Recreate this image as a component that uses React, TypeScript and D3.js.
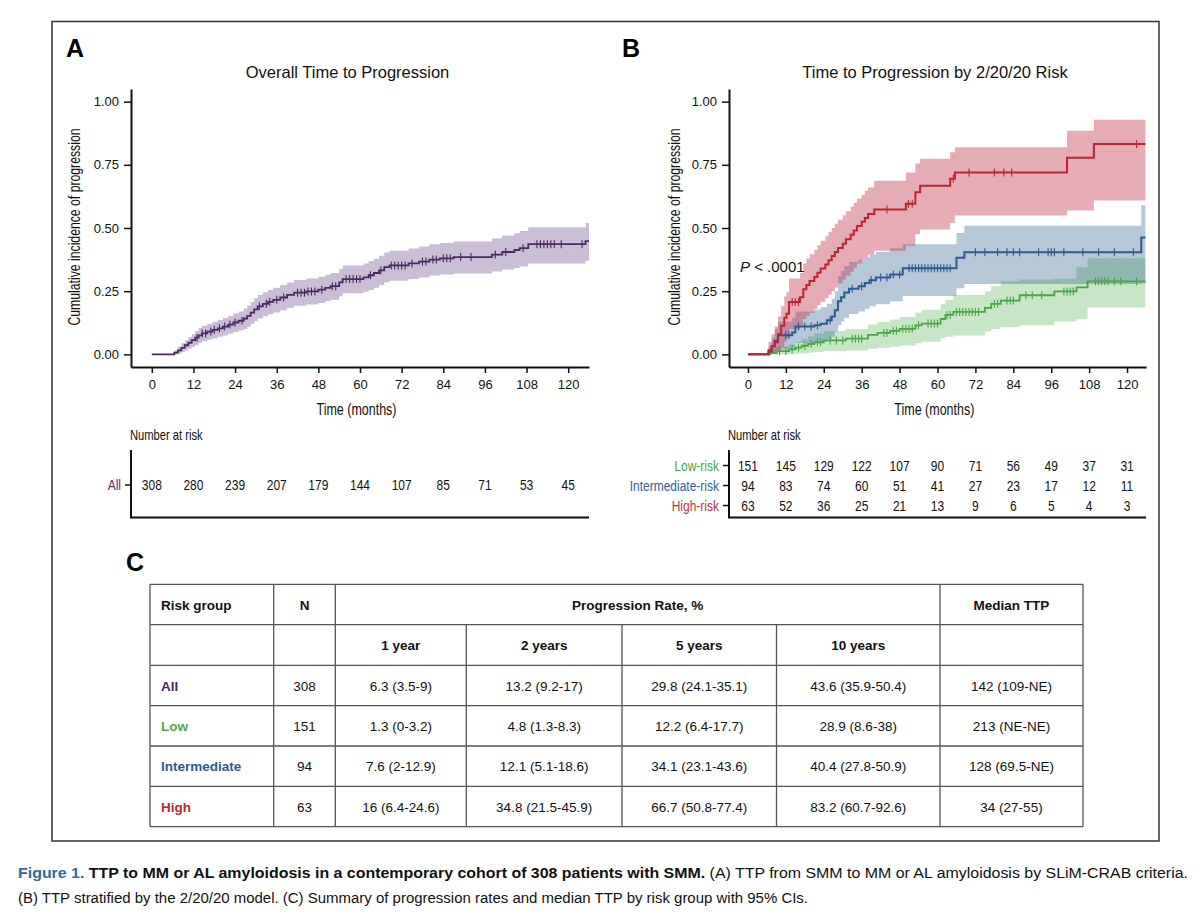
import * as d3 from "d3";
import React from "react";

// ---- data ----
const tickMonths = [0, 12, 24, 36, 48, 60, 72, 84, 96, 108, 120];
const yTicks = [0, 0.25, 0.5, 0.75, 1];

// number at risk
const riskAll = [308, 280, 239, 207, 179, 144, 107, 85, 71, 53, 45];
const riskLow = [151, 145, 129, 122, 107, 90, 71, 56, 49, 37, 31];
const riskInt = [94, 83, 74, 60, 51, 41, 27, 23, 17, 12, 11];
const riskHigh = [63, 52, 36, 25, 21, 13, 9, 6, 5, 4, 3];

// overall (panel A)
const allTime = [0, 6.5, 7.5, 8.5, 9.5, 10.5, 11.5, 12.5, 13.5, 14.5, 16, 17.5, 19, 20.5, 22, 23.5, 25, 26.5, 27.5, 28.5, 29.5, 30.5, 32, 33.5, 35, 37, 39, 41, 44.5, 48, 50, 51.5, 54, 55, 61, 62.5, 64, 65.5, 67, 68.5, 74, 77, 80, 83, 87, 98, 101, 104.5, 106, 108.5, 125];
const allEst = [0, 0.007, 0.016, 0.026, 0.036, 0.046, 0.056, 0.066, 0.075, 0.083, 0.09, 0.097, 0.103, 0.11, 0.118, 0.126, 0.133, 0.142, 0.152, 0.165, 0.178, 0.19, 0.2, 0.208, 0.216, 0.225, 0.235, 0.244, 0.249, 0.256, 0.263, 0.27, 0.285, 0.298, 0.305, 0.313, 0.322, 0.332, 0.345, 0.352, 0.36, 0.367, 0.375, 0.38, 0.385, 0.395, 0.405, 0.413, 0.42, 0.436, 0.448];
const allLo = [0, 0, 0.002, 0.008, 0.015, 0.022, 0.03, 0.037, 0.045, 0.052, 0.058, 0.064, 0.07, 0.075, 0.082, 0.088, 0.094, 0.1, 0.108, 0.12, 0.131, 0.142, 0.151, 0.159, 0.166, 0.175, 0.184, 0.192, 0.197, 0.203, 0.21, 0.216, 0.23, 0.242, 0.248, 0.255, 0.264, 0.273, 0.285, 0.291, 0.298, 0.304, 0.312, 0.316, 0.32, 0.328, 0.336, 0.342, 0.348, 0.36, 0.37];
const allHi = [0, 0.015, 0.03, 0.044, 0.056, 0.068, 0.08, 0.092, 0.104, 0.113, 0.121, 0.129, 0.136, 0.144, 0.153, 0.162, 0.17, 0.181, 0.193, 0.207, 0.222, 0.235, 0.246, 0.255, 0.264, 0.274, 0.284, 0.294, 0.3, 0.307, 0.315, 0.322, 0.338, 0.352, 0.36, 0.369, 0.378, 0.39, 0.403, 0.41, 0.419, 0.427, 0.436, 0.441, 0.447, 0.458, 0.47, 0.479, 0.488, 0.503, 0.52];
const allCensor = [13, 14.5, 15.5, 17, 18, 19.5, 21, 22.5, 24, 26, 31, 33, 34, 36, 38, 42, 43, 44, 45, 46, 47, 49, 52, 53, 56, 57, 58, 59, 60, 63, 66, 69, 70, 71, 72, 73, 75, 78, 79, 81, 82, 84, 85, 86, 89, 92, 99, 102, 107, 111, 112, 113, 114, 115, 116, 118, 124];

// high risk (panel B)
const highTime = [0, 6.5, 7.5, 8.5, 9.5, 10.5, 11.5, 12.2, 13, 16.5, 17.5, 18.5, 19.5, 21, 22, 23, 24.5, 25.5, 26.5, 27.5, 28.5, 30, 31, 32.5, 33.5, 34.5, 36, 37, 38, 40, 50, 53, 54.5, 64, 65.5, 101, 109.5];
const highEst = [0, 0.016, 0.032, 0.048, 0.08, 0.113, 0.145, 0.161, 0.207, 0.226, 0.258, 0.274, 0.29, 0.306, 0.323, 0.34, 0.356, 0.372, 0.389, 0.405, 0.421, 0.438, 0.455, 0.473, 0.49, 0.508, 0.525, 0.54, 0.555, 0.573, 0.596, 0.641, 0.667, 0.695, 0.72, 0.778, 0.832];
const highLo = [0, 0, 0, 0, 0.01, 0.03, 0.05, 0.064, 0.1, 0.113, 0.14, 0.153, 0.165, 0.18, 0.195, 0.208, 0.222, 0.236, 0.25, 0.265, 0.28, 0.296, 0.311, 0.327, 0.343, 0.36, 0.375, 0.385, 0.395, 0.41, 0.43, 0.475, 0.494, 0.52, 0.549, 0.569, 0.609];
const highHi = [0, 0.05, 0.08, 0.11, 0.15, 0.19, 0.23, 0.246, 0.3, 0.322, 0.36, 0.378, 0.396, 0.414, 0.432, 0.45, 0.467, 0.484, 0.5, 0.517, 0.533, 0.55, 0.566, 0.584, 0.6, 0.616, 0.632, 0.647, 0.66, 0.687, 0.72, 0.755, 0.774, 0.8, 0.82, 0.885, 0.928];
const highCensor = [14, 15, 16, 44, 50.8, 52, 65, 70, 78, 81, 83.5, 123];

// intermediate risk
const intTime = [0, 6.5, 7.5, 8.5, 9.5, 14, 15, 21, 23, 25, 26.5, 27.5, 28.5, 29.5, 30.5, 32, 35, 37, 38.5, 40.5, 45, 49, 66, 68.5, 124.5];
const intEst = [0, 0.011, 0.032, 0.054, 0.076, 0.087, 0.11, 0.115, 0.121, 0.135, 0.15, 0.175, 0.21, 0.226, 0.245, 0.26, 0.27, 0.282, 0.293, 0.304, 0.316, 0.341, 0.382, 0.404, 0.462];
const intLo = [0, 0, 0.002, 0.01, 0.02, 0.028, 0.045, 0.048, 0.051, 0.06, 0.07, 0.09, 0.115, 0.13, 0.145, 0.16, 0.17, 0.18, 0.19, 0.198, 0.21, 0.231, 0.262, 0.278, 0.28];
const intHi = [0, 0.03, 0.065, 0.1, 0.129, 0.145, 0.17, 0.178, 0.186, 0.2, 0.22, 0.25, 0.31, 0.33, 0.35, 0.365, 0.375, 0.385, 0.395, 0.405, 0.42, 0.436, 0.48, 0.509, 0.59];
const intCensor = [12, 13, 16, 18, 20, 22, 26, 33, 36, 39, 42, 44, 46, 48, 51, 52, 53, 54, 55, 56, 57, 58, 59, 60, 61, 62, 63, 64, 72, 75, 79, 82, 84, 86, 92, 95, 96, 97, 100, 106, 111, 116, 122];

// low risk
const lowTime = [0, 7, 9, 13, 15, 17, 19, 21, 24, 31, 38, 41, 45, 48, 53, 55, 61, 62.5, 65, 75, 77, 80, 86, 97, 104, 107.5];
const lowEst = [0, 0.007, 0.013, 0.02, 0.027, 0.034, 0.041, 0.048, 0.055, 0.062, 0.077, 0.085, 0.093, 0.101, 0.115, 0.122, 0.14, 0.156, 0.168, 0.184, 0.2, 0.213, 0.234, 0.249, 0.265, 0.289];
const lowLo = [0, 0, 0, 0, 0.002, 0.004, 0.006, 0.009, 0.013, 0.015, 0.022, 0.026, 0.03, 0.035, 0.045, 0.05, 0.064, 0.07, 0.075, 0.09, 0.1, 0.108, 0.115, 0.13, 0.14, 0.185];
const lowHi = [0, 0.02, 0.032, 0.04, 0.05, 0.06, 0.072, 0.083, 0.092, 0.1, 0.118, 0.128, 0.138, 0.148, 0.165, 0.177, 0.2, 0.215, 0.235, 0.25, 0.27, 0.29, 0.296, 0.3, 0.345, 0.38];
const lowCensor = [10, 12, 14, 16, 18, 20, 22, 23, 26, 28, 30, 33, 34, 35, 36, 43, 44, 46, 47, 49, 50, 51, 52, 54, 57, 58, 59, 60, 63, 64, 66, 67, 68, 69, 70, 71, 72, 73, 78, 79, 82, 83, 84, 88, 90, 93, 100, 101, 102, 103, 110, 111, 112, 113, 114, 116, 118, 123];

// table C
const tableGroups = ["All", "Low", "Intermediate", "High"];
const tableN = [308, 151, 94, 63];
const rate1y = ["6.3 (3.5-9)", "1.3 (0-3.2)", "7.6 (2-12.9)", "16 (6.4-24.6)"];
const rate2y = ["13.2 (9.2-17)", "4.8 (1.3-8.3)", "12.1 (5.1-18.6)", "34.8 (21.5-45.9)"];
const rate5y = ["29.8 (24.1-35.1)", "12.2 (6.4-17.7)", "34.1 (23.1-43.6)", "66.7 (50.8-77.4)"];
const rate10y = ["43.6 (35.9-50.4)", "28.9 (8.6-38)", "40.4 (27.8-50.9)", "83.2 (60.7-92.6)"];
const medianTTP = ["142 (109-NE)", "213 (NE-NE)", "128 (69.5-NE)", "34 (27-55)"];
const rateHeaders = ["1 year", "2 years", "5 years", "10 years"];

const purple = "#4b2a62";
const green = "#4aa645";
const blue = "#2d5a8e";
const red = "#c0232f";

const sans = "'Liberation Sans', Arial, Helvetica, sans-serif";
const squeeze = 0.8; // condensed look for the R-style labels

type Sel = d3.Selection<SVGGElement, unknown, null, undefined>;

// condensed text: Liberation Sans squeezed horizontally
const ctext = (
  g: Sel,
  str: string | number,
  x: number,
  yPos: number,
  anchor: string,
  size: number,
  color: string
) =>
  g
    .append("text")
    .text(str)
    .attr("transform", `translate(${x},${yPos}) scale(${squeeze},1)`)
    .attr("text-anchor", anchor)
    .attr("font-family", sans)
    .attr("font-size", size)
    .attr("fill", color);

const drawElm = (node: SVGSVGElement) => {
  const svg = d3.select(node);
  svg.selectAll("*").remove();

  svg.append("rect").attr("width", 1200).attr("height", 920).attr("fill", "#fff");
  svg
    .append("rect")
    .attr("x", 52)
    .attr("y", 21.5)
    .attr("width", 1107)
    .attr("height", 819.5)
    .attr("fill", "none")
    .attr("stroke", "#333")
    .attr("stroke-width", 1.5);

  const y = d3.scaleLinear().domain([-0.05, 1.05]).range([367, 89]);
  const xA = d3.scaleLinear().domain([-6, 126]).range([131, 589]);
  const xB = d3.scaleLinear().domain([-6, 126]).range([729, 1146]);

  const axes = (g: Sel, x: d3.ScaleLinear<number, number>) => {
    const ya = g
      .append("g")
      .attr("transform", `translate(${x.range()[0]},0)`)
      .call(
        d3
          .axisLeft(y)
          .tickValues(yTicks)
          .tickFormat(d3.format(".2f"))
          .tickSize(7)
          .tickSizeOuter(0)
          .tickPadding(5)
      );
    const xa = g
      .append("g")
      .attr("transform", `translate(0,${y.range()[0]})`)
      .call(
        d3
          .axisBottom(x)
          .tickValues(tickMonths)
          .tickSize(6)
          .tickSizeOuter(0)
          .tickPadding(7)
      );
    [ya, xa].forEach((a) => {
      a.attr("font-family", sans).attr("font-size", 13);
      a.select(".domain").attr("stroke", "#111").attr("stroke-width", 2);
      a.selectAll(".tick line").attr("stroke", "#111").attr("stroke-width", 1.5);
      a.selectAll(".tick text").attr("fill", "#111");
    });
  };

  const km = (
    g: Sel,
    x: d3.ScaleLinear<number, number>,
    time: number[],
    est: number[],
    lo: number[],
    hi: number[],
    end: number,
    bandColor: string,
    bandOpacity: number
  ) => {
    const rows = time.map((t, i) => ({ t, e: est[i], lo: lo[i], hi: hi[i] }));
    rows.push({ ...rows[rows.length - 1], t: end });
    const area = d3
      .area<(typeof rows)[number]>()
      .x((d) => x(d.t))
      .y0((d) => y(d.lo))
      .y1((d) => y(d.hi))
      .curve(d3.curveStepAfter);
    g.append("path").attr("d", area(rows)).attr("fill", bandColor).attr("opacity", bandOpacity);
  };

  const kmLine = (
    g: Sel,
    x: d3.ScaleLinear<number, number>,
    time: number[],
    est: number[],
    censor: number[],
    end: number,
    color: string,
    width: number
  ) => {
    const pts: [number, number][] = time.map((t, i) => [t, est[i]]);
    pts.push([end, est[est.length - 1]]);
    const line = d3
      .line<[number, number]>()
      .x((d) => x(d[0]))
      .y((d) => y(d[1]))
      .curve(d3.curveStepAfter);
    g.append("path")
      .attr("d", line(pts))
      .attr("fill", "none")
      .attr("stroke", color)
      .attr("stroke-width", width);
    g.append("g")
      .selectAll("line")
      .data(censor)
      .join("line")
      .attr("x1", (c) => x(c))
      .attr("x2", (c) => x(c))
      .attr("y1", (c) => y(est[d3.bisectRight(time, c) - 1]) - 4)
      .attr("y2", (c) => y(est[d3.bisectRight(time, c) - 1]) + 4)
      .attr("stroke", color)
      .attr("stroke-width", 1.1);
  };

  const labels = (
    g: Sel,
    letter: string,
    letterX: number,
    title: string,
    titleX: number,
    x: d3.ScaleLinear<number, number>,
    yTitleX: number
  ) => {
    g.append("text")
      .text(letter)
      .attr("x", letterX)
      .attr("y", 57)
      .attr("font-family", sans)
      .attr("font-weight", 900)
      .attr("font-size", 25)
      .attr("fill", "#000");
    g.append("text")
      .text(title)
      .attr("x", titleX)
      .attr("y", 78)
      .attr("text-anchor", "middle")
      .attr("font-family", sans)
      .attr("font-size", 16.5)
      .attr("fill", "#111");
    g.append("text")
      .text("Time (months)")
      .attr("x", x(59))
      .attr("y", 415)
      .attr("text-anchor", "middle")
      .attr("font-family", sans)
      .attr("font-size", 17)
      .attr("textLength", 80)
      .attr("lengthAdjust", "spacingAndGlyphs")
      .attr("fill", "#111");
    g.append("text")
      .text("Cumulative incidence of progression")
      .attr("transform", `translate(${yTitleX},227) rotate(-90)`)
      .attr("text-anchor", "middle")
      .attr("font-family", sans)
      .attr("font-size", 17)
      .attr("textLength", 197)
      .attr("lengthAdjust", "spacingAndGlyphs")
      .attr("fill", "#111");
  };

  const riskTable = (
    g: Sel,
    x: d3.ScaleLinear<number, number>,
    rows: { label: string; color: string; values: number[]; yPos: number }[]
  ) => {
    const x0 = x.range()[0];
    const x1 = x.range()[1];
    ctext(g, "Number at risk", x0 - 1, 440, "start", 14, "#111");
    g.append("path")
      .attr("d", `M${x0},450V517.5H${x1}`)
      .attr("fill", "none")
      .attr("stroke", "#111")
      .attr("stroke-width", 2);
    rows.forEach((r) => {
      g.append("line")
        .attr("x1", x0 - 6)
        .attr("x2", x0)
        .attr("y1", r.yPos)
        .attr("y2", r.yPos)
        .attr("stroke", "#111")
        .attr("stroke-width", 1.5);
      ctext(g, r.label, x0 - 10, r.yPos + 5, "end", 15, r.color);
      r.values.forEach((v, i) => ctext(g, v, x(tickMonths[i]), r.yPos + 5, "middle", 15, "#111"));
    });
  };

  // ---- panel A ----
  const gA = svg.append("g");
  km(gA, xA, allTime, allEst, allLo, allHi, 126, "#7b5a99", 0.4);
  kmLine(gA, xA, allTime, allEst, allCensor, 126, purple, 1.8);
  axes(gA, xA);
  labels(gA, "A", 66, "Overall Time to Progression", 347.5, xA, 80);
  riskTable(gA, xA, [{ label: "All", color: "#5a2d78", values: riskAll, yPos: 485 }]);

  // ---- panel B ----
  const gB = svg.append("g");
  km(gB, xB, lowTime, lowEst, lowLo, lowHi, 125.8, "#5cb85c", 0.35);
  km(gB, xB, intTime, intEst, intLo, intHi, 125.8, "#2f5f8f", 0.35);
  km(gB, xB, highTime, highEst, highLo, highHi, 125.8, "#c0394f", 0.42);
  kmLine(gB, xB, lowTime, lowEst, lowCensor, 125.8, green, 1.8);
  kmLine(gB, xB, intTime, intEst, intCensor, 125.8, blue, 2);
  kmLine(gB, xB, highTime, highEst, highCensor, 125.8, red, 2);
  axes(gB, xB);
  labels(gB, "B", 622, "Time to Progression by 2/20/20 Risk", 935, xB, 680);
  const pText = gB
    .append("text")
    .attr("x", 740)
    .attr("y", 272)
    .attr("font-family", sans)
    .attr("font-size", 15)
    .attr("fill", "#111");
  pText.append("tspan").attr("font-style", "italic").text("P");
  pText.append("tspan").text(" < .0001");
  riskTable(gB, xB, [
    { label: "Low-risk", color: "#4aa645", values: riskLow, yPos: 465.5 },
    { label: "Intermediate-risk", color: "#35609a", values: riskInt, yPos: 485.5 },
    { label: "High-risk", color: "#c9303e", values: riskHigh, yPos: 505.5 },
  ]);

  // ---- panel C: table ----
  const gC = svg.append("g");
  gC.append("text")
    .text("C")
    .attr("x", 126)
    .attr("y", 571)
    .attr("font-family", sans)
    .attr("font-weight", 900)
    .attr("font-size", 25)
    .attr("fill", "#000");

  const cols = [150, 273.7, 335.3, 466.3, 622, 776.5, 940, 1083];
  const rowsY = [584.3, 624.7, 665.3, 705.7, 746, 786.3, 826.7];
  const lineColor = "#555";
  rowsY.forEach((ry) =>
    gC.append("line").attr("x1", cols[0]).attr("x2", cols[7]).attr("y1", ry).attr("y2", ry)
      .attr("stroke", lineColor).attr("stroke-width", 1.3)
  );
  cols.forEach((cx, i) => {
    const top = i >= 3 && i <= 5 ? rowsY[1] : rowsY[0];
    gC.append("line").attr("x1", cx).attr("x2", cx).attr("y1", top).attr("y2", rowsY[6])
      .attr("stroke", lineColor).attr("stroke-width", 1.3);
  });
  const mid = (a: number, b: number) => (a + b) / 2;
  const cell = (t: string, cx: number, r: number, opts: { bold?: boolean; anchor?: string; color?: string } = {}) =>
    gC.append("text")
      .text(t)
      .attr("x", cx)
      .attr("y", mid(rowsY[r], rowsY[r + 1]) + 5)
      .attr("text-anchor", opts.anchor || "middle")
      .attr("font-family", sans)
      .attr("font-size", 13.5)
      .attr("font-weight", opts.bold ? 700 : 400)
      .attr("fill", opts.color || "#111");

  cell("Risk group", 161, 0, { bold: true, anchor: "start" });
  cell("N", mid(cols[1], cols[2]), 0, { bold: true });
  cell("Progression Rate, %", mid(cols[2], cols[6]), 0, { bold: true });
  cell("Median TTP", mid(cols[6], cols[7]), 0, { bold: true });
  rateHeaders.forEach((h, i) => cell(h, mid(cols[2 + i], cols[3 + i]), 1, { bold: true }));
  const groupColors = ["#4b2466", "#52a846", "#2f5a8c", "#c0272d"];
  tableGroups.forEach((grp, i) => {
    const r = i + 2;
    cell(grp, 161, r, { bold: true, anchor: "start", color: groupColors[i] });
    cell(String(tableN[i]), mid(cols[1], cols[2]), r);
    [rate1y, rate2y, rate5y, rate10y].forEach((arr, j) => cell(arr[i], mid(cols[2 + j], cols[3 + j]), r));
    cell(medianTTP[i], mid(cols[6], cols[7]), r);
  });

  // ---- caption ----
  const cap1 = svg
    .append("text")
    .attr("x", 18)
    .attr("y", 878)
    .attr("font-family", sans)
    .attr("font-size", 15.5)
    .attr("fill", "#111")
    .attr("textLength", 1170)
    .attr("lengthAdjust", "spacingAndGlyphs");
  cap1.append("tspan").attr("fill", "#2f6aa3").attr("font-weight", 700).text("Figure 1. ");
  cap1.append("tspan").attr("font-weight", 700).text("TTP to MM or AL amyloidosis in a contemporary cohort of 308 patients with SMM.");
  cap1.append("tspan").text(" (A) TTP from SMM to MM or AL amyloidosis by SLiM-CRAB criteria.");
  svg
    .append("text")
    .attr("x", 18)
    .attr("y", 902.5)
    .attr("font-family", sans)
    .attr("font-size", 15.5)
    .attr("fill", "#111")
    .attr("textLength", 790)
    .attr("lengthAdjust", "spacingAndGlyphs")
    .text("(B) TTP stratified by the 2/20/20 model. (C) Summary of progression rates and median TTP by risk group with 95% CIs.");
};

export default function App() {
  const ref = React.useRef<SVGSVGElement | null>(null);
  React.useEffect(() => {
    if (ref.current) drawElm(ref.current);
  }, []);
  return (
    <svg
      ref={ref}
      width={1200}
      height={920}
      style={{ position: "absolute", left: 0, top: 0 }}
    ></svg>
  );
}
